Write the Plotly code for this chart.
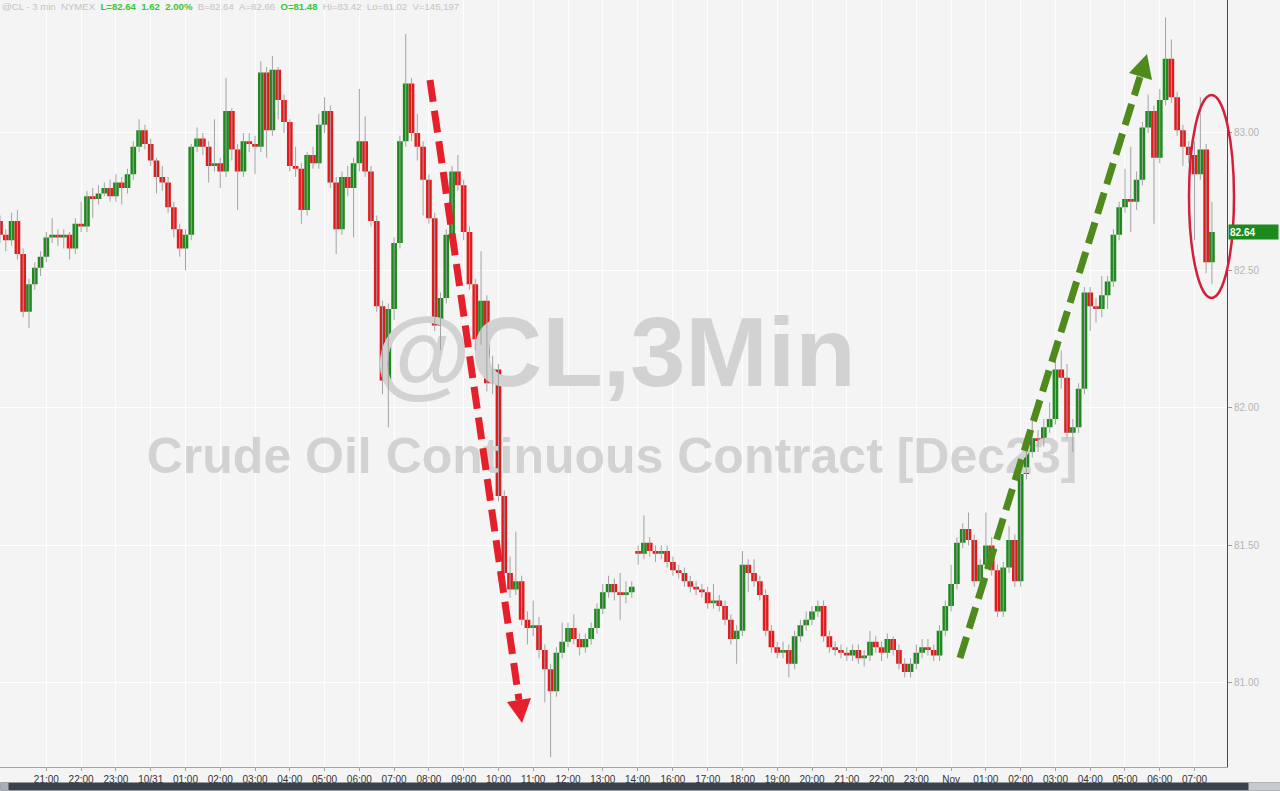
import pandas as pd
import plotly.graph_objects as go

# ---------------- data (10-minute bars) ----------------
session1_start = "2023-10-30 19:40"
session2_start = "2023-10-31 15:00"
bar_freq = "10min"
session_opens = [82.68, 81.48]

closes1 = [82.63, 82.61, 82.68, 82.56, 82.35, 82.45, 82.51, 82.55, 82.62, 82.63,
           82.62, 82.63, 82.58, 82.67, 82.66, 82.77, 82.76, 82.78, 82.80, 82.77,
           82.82, 82.80, 82.85, 82.95, 83.01, 82.96, 82.90, 82.84, 82.82, 82.73,
           82.65, 82.58, 82.63, 82.95, 82.98, 82.95, 82.88, 82.89, 82.86, 83.08,
           82.94, 82.86, 82.97, 82.96, 82.95, 83.22, 83.01, 83.23, 83.12, 83.04,
           82.88, 82.87, 82.72, 82.92, 82.89, 83.03, 83.08, 82.82, 82.65, 82.84,
           82.80, 82.89, 82.97, 82.86, 82.68, 82.37, 82.10, 82.36, 82.60, 82.97,
           83.18, 83.00, 82.95, 82.83, 82.69, 82.30, 82.40, 82.63, 82.86, 82.81,
           82.64, 82.45, 82.25, 82.39, 82.09, 82.14, 81.68, 81.40, 81.34, 81.37,
           81.23, 81.20, 81.21, 81.12, 81.05, 80.97, 81.11, 81.15, 81.20, 81.16,
           81.13, 81.16, 81.20, 81.27, 81.33, 81.36, 81.33, 81.32, 81.33, 81.35]
highs1 = [82.70, 82.65, 82.71, 82.72, 82.58, 82.47, 82.53, 82.57, 82.64, 82.69,
          82.65, 82.65, 82.64, 82.69, 82.75, 82.79, 82.80, 82.81, 82.82, 82.83,
          82.85, 82.84, 82.87, 82.97, 83.05, 83.03, 82.98, 82.91, 82.88, 82.84,
          82.75, 82.67, 82.65, 82.96, 83.02, 83.00, 82.97, 83.05, 82.91, 83.20,
          83.09, 82.96, 83.00, 83.00, 82.99, 83.26, 83.24, 83.28, 83.24, 83.14,
          83.05, 82.95, 82.89, 82.93, 82.95, 83.07, 83.13, 83.10, 82.84, 82.86,
          82.88, 82.91, 83.16, 83.06, 82.88, 82.70, 82.39, 82.38, 82.62, 82.99,
          83.36, 83.20, 83.07, 82.97, 82.85, 82.71, 82.42, 82.65, 82.88, 82.92,
          82.83, 82.66, 82.47, 82.57, 82.41, 82.19, 82.16, 81.70, 81.46, 81.55,
          81.39, 81.26, 81.30, 81.24, 81.14, 81.07, 81.13, 81.22, 81.22, 81.25,
          81.18, 81.18, 81.22, 81.29, 81.36, 81.39, 81.38, 81.40, 81.37, 81.37]
lows1 = [82.60, 82.57, 82.59, 82.54, 82.33, 82.29, 82.43, 82.48, 82.53, 82.60,
         82.59, 82.58, 82.54, 82.56, 82.64, 82.64, 82.69, 82.74, 82.77, 82.75,
         82.75, 82.74, 82.78, 82.83, 82.93, 82.94, 82.88, 82.78, 82.79, 82.71,
         82.62, 82.55, 82.50, 82.61, 82.93, 82.92, 82.82, 82.86, 82.80, 82.84,
         82.90, 82.72, 82.84, 82.93, 82.85, 82.93, 82.91, 82.99, 83.05, 83.00,
         82.86, 82.84, 82.67, 82.70, 82.87, 82.87, 83.00, 82.80, 82.56, 82.63,
         82.77, 82.62, 82.86, 82.84, 82.66, 82.35, 82.05, 81.93, 82.32, 82.58,
         82.95, 82.97, 82.90, 82.70, 82.67, 82.28, 82.21, 82.38, 82.61, 82.79,
         82.61, 82.43, 82.21, 82.23, 82.06, 82.05, 81.66, 81.37, 81.31, 81.32,
         81.21, 81.14, 81.17, 81.09, 80.93, 80.73, 80.95, 81.09, 81.13, 81.14,
         81.10, 81.11, 81.14, 81.18, 81.25, 81.31, 81.30, 81.23, 81.29, 81.31]

closes2 = [81.47, 81.51, 81.48, 81.47, 81.48, 81.44, 81.41, 81.40, 81.37, 81.35,
           81.34, 81.33, 81.29, 81.30, 81.28, 81.23, 81.16, 81.19, 81.43, 81.40,
           81.37, 81.32, 81.19, 81.13, 81.11, 81.12, 81.07, 81.17, 81.21, 81.23,
           81.26, 81.28, 81.17, 81.13, 81.12, 81.11, 81.10, 81.12, 81.09, 81.10,
           81.15, 81.13, 81.11, 81.16, 81.12, 81.07, 81.04, 81.07, 81.11, 81.13,
           81.12, 81.10, 81.19, 81.28, 81.36, 81.51, 81.56, 81.52, 81.37, 81.43,
           81.50, 81.41, 81.26, 81.42, 81.52, 81.37, 81.76, 81.84, 81.89, 81.88,
           81.93, 81.96, 82.14, 82.11, 81.91, 81.93, 82.07, 82.42, 82.37, 82.36,
           82.41, 82.46, 82.63, 82.73, 82.76, 82.75, 82.83, 83.02, 83.08, 82.91,
           83.12, 83.27, 83.13, 83.01, 82.95, 82.92, 82.85, 82.94, 82.53, 82.64]
highs2 = [81.50, 81.61, 81.53, 81.50, 81.50, 81.50, 81.46, 81.43, 81.42, 81.39,
          81.37, 81.36, 81.35, 81.36, 81.32, 81.30, 81.25, 81.21, 81.48, 81.45,
          81.45, 81.39, 81.34, 81.21, 81.15, 81.15, 81.14, 81.19, 81.23, 81.26,
          81.28, 81.30, 81.30, 81.19, 81.15, 81.14, 81.13, 81.14, 81.14, 81.12,
          81.19, 81.17, 81.15, 81.18, 81.17, 81.14, 81.09, 81.09, 81.14, 81.16,
          81.16, 81.14, 81.21, 81.30, 81.43, 81.53, 81.58, 81.62, 81.54, 81.45,
          81.62, 81.53, 81.43, 81.44, 81.57, 81.54, 81.78, 81.86, 81.97, 81.92,
          81.96, 82.02, 82.19, 82.21, 82.16, 81.96, 82.09, 82.44, 82.44, 82.40,
          82.48, 82.48, 82.65, 82.75, 82.87, 82.95, 82.86, 83.04, 83.14, 83.10,
          83.16, 83.42, 83.34, 83.15, 83.03, 82.97, 82.97, 83.13, 82.96, 82.75]
lows2 = [81.43, 81.45, 81.46, 81.44, 81.45, 81.42, 81.39, 81.38, 81.35, 81.33,
         81.32, 81.31, 81.27, 81.27, 81.26, 81.21, 81.14, 81.07, 81.17, 81.33,
         81.35, 81.30, 81.17, 81.11, 81.09, 81.09, 81.02, 81.05, 81.15, 81.19,
         81.21, 81.24, 81.15, 81.11, 81.10, 81.09, 81.08, 81.08, 81.07, 81.06,
         81.08, 81.11, 81.08, 81.09, 81.10, 81.05, 81.02, 81.02, 81.05, 81.09,
         81.10, 81.08, 81.08, 81.17, 81.26, 81.34, 81.49, 81.50, 81.35, 81.34,
         81.41, 81.39, 81.24, 81.24, 81.40, 81.35, 81.35, 81.74, 81.82, 81.84,
         81.86, 81.91, 81.94, 82.07, 81.89, 81.84, 81.91, 82.05, 82.28, 82.31,
         82.33, 82.36, 82.44, 82.61, 82.71, 82.64, 82.72, 82.81, 83.00, 82.67,
         82.89, 83.10, 83.11, 82.99, 82.88, 82.89, 82.61, 82.83, 82.49, 82.45]

prev_settle = 81.02
header_bid, header_ask, header_volume = 82.64, 82.66, "145,197"

tick_times = ["2023-10-30 21:00", "2023-10-30 22:00", "2023-10-30 23:00",
              "2023-10-31 00:00", "2023-10-31 01:00", "2023-10-31 02:00",
              "2023-10-31 03:00", "2023-10-31 04:00", "2023-10-31 05:00",
              "2023-10-31 06:00", "2023-10-31 07:00", "2023-10-31 08:00",
              "2023-10-31 09:00", "2023-10-31 10:00", "2023-10-31 11:00",
              "2023-10-31 12:00", "2023-10-31 13:00", "2023-10-31 14:00",
              "2023-10-31 16:00", "2023-10-31 17:00", "2023-10-31 18:00",
              "2023-10-31 19:00", "2023-10-31 20:00", "2023-10-31 21:00",
              "2023-10-31 22:00", "2023-10-31 23:00", "2023-11-01 00:00",
              "2023-11-01 01:00", "2023-11-01 02:00", "2023-11-01 03:00",
              "2023-11-01 04:00", "2023-11-01 05:00", "2023-11-01 06:00",
              "2023-11-01 07:00"]
tick_labels = ["21:00", "22:00", "23:00", "10/31", "01:00", "02:00", "03:00",
               "04:00", "05:00", "06:00", "07:00", "08:00", "09:00", "10:00",
               "11:00", "12:00", "13:00", "14:00", "16:00", "17:00", "18:00",
               "19:00", "20:00", "21:00", "22:00", "23:00", "Nov", "01:00",
               "02:00", "03:00", "04:00", "05:00", "06:00", "07:00"]
price_ticks = [81.0, 81.5, 82.0, 82.5, 83.0]
x_range = ["2023-10-30 19:40", "2023-11-01 07:56"]
y_range = [80.6945, 83.4836]
session_break = ["2023-10-31 14:00:30", "2023-10-31 14:59:30"]

# ---------------- assemble ----------------
times = list(pd.date_range(session1_start, periods=len(closes1), freq=bar_freq)) + \
        list(pd.date_range(session2_start, periods=len(closes2), freq=bar_freq))
opens = [session_opens[0]] + closes1[:-1] + [session_opens[1]] + closes2[:-1]
closes = closes1 + closes2
highs = highs1 + highs2
lows = lows1 + lows2

GREEN = "#1d8a1d"
RED = "#e3191c"
BG = "#f4f4f4"
W, H = 1280, 791
PLOT_W, PLOT_H = 1227, 767


def px(xp):
    return xp / PLOT_W


def py(yp):
    return 1 - yp / PLOT_H


fig = go.Figure()

# watermark (drawn beneath the candles)
fig.add_trace(go.Scatter(
    x=[pd.Timestamp("2023-10-31 13:21")], y=[82.17], mode="text",
    text=["@CL,3Min"], textposition="middle center",
    textfont=dict(size=99, color="#d2d2d2", family="Liberation Sans, Arial", weight="bold"),
    hoverinfo="skip"))
fig.add_trace(go.Scatter(
    x=[pd.Timestamp("2023-10-31 13:16")], y=[81.81], mode="text",
    text=["Crude Oil Continuous Contract [Dec23]"], textposition="middle center",
    textfont=dict(size=50, color="#d2d2d2", family="Liberation Sans, Arial", weight="bold"),
    hoverinfo="skip"))

# wicks
wx, wy = [], []
for t, lo, hi in zip(times, lows, highs):
    wx += [t, t, None]
    wy += [lo, hi, None]
fig.add_trace(go.Scatter(x=wx, y=wy, mode="lines",
                         line=dict(color="#a3a3a3", width=1), hoverinfo="skip"))

# candle bodies
fig.add_trace(go.Candlestick(
    x=times, open=opens, high=highs, low=lows, close=closes,
    increasing=dict(fillcolor=GREEN, line=dict(color=GREEN, width=0)),
    decreasing=dict(fillcolor=RED, line=dict(color=RED, width=0)),
    whiskerwidth=0, hoverinfo="skip"))

last = closes[-1]
change = last - prev_settle
pct = change / prev_settle * 100
sess_open = session_opens[1]
sess_hi = max(highs2)
sess_lo = min(lows2)

nb = "\u00a0"
gray = "#c3c3c3"
grn = "#39c639"
header = (f"<span style='color:{gray}'>@CL - 3 min{nb}{nb}NYMEX{nb}{nb}</span>"
          f"<b><span style='color:{grn}'>L={last:.2f}{nb}{nb}{change:.2f}{nb}{nb}{pct:.2f}%</span></b>"
          f"<span style='color:{gray}'>{nb}{nb}B={header_bid:.2f}{nb}{nb}A={header_ask:.2f}{nb}{nb}</span>"
          f"<b><span style='color:{grn}'>O={sess_open:.2f}</span></b>"
          f"<span style='color:{gray}'>{nb}{nb}Hi={sess_hi:.2f}{nb}{nb}Lo={sess_lo:.2f}{nb}{nb}V={header_volume}</span>")

annotations = [
    dict(xref="paper", yref="paper", x=0.0, y=1.0, xanchor="left", yanchor="top",
         text=header, showarrow=False, font=dict(size=9.6, family="Liberation Sans, Arial"),
         yshift=1),
    dict(xref="paper", yref="y", x=1.0, y=last, xanchor="left", yanchor="middle",
         text=f"<b>{last:.2f}</b>", showarrow=False, bgcolor=GREEN, width=47, height=12,
         align="left", borderpad=1, xshift=1,
         font=dict(size=10, color="white", family="Liberation Sans, Arial")),
    # bottom scroll bar strip
    dict(xref="paper", yref="paper", x=0.0, y=-(H - PLOT_H) / PLOT_H, xanchor="left", yanchor="bottom",
         text=" ", showarrow=False, bgcolor="#3a424d", width=W, height=7, borderpad=0,
         font=dict(size=4)),
    dict(xref="paper", yref="paper", x=0.0, y=-(H - PLOT_H) / PLOT_H, xanchor="left", yanchor="bottom",
         text=" ", showarrow=False, bgcolor="#aab0b6", width=7, height=7, borderpad=0,
         font=dict(size=4)),
    dict(xref="paper", yref="paper", x=px(1248), y=-(H - PLOT_H) / PLOT_H, xanchor="left", yanchor="bottom",
         text=" ", showarrow=False, bgcolor="#c6cbd0", width=32, height=7, borderpad=0,
         font=dict(size=4)),
]

RED_ARROW = "#e5202b"
GREEN_ARROW = "#4f8a1c"
shapes = [
    # red dashed arrow
    dict(type="line", xref="paper", yref="paper", x0=px(430), y0=py(80), x1=px(519), y1=py(700),
         line=dict(color=RED_ARROW, width=7, dash="22px,9px"), layer="above"),
    dict(type="path", xref="paper", yref="paper",
         path=f"M {px(522)} {py(723)} L {px(531)} {py(698)} L {px(507)} {py(702)} Z",
         fillcolor=RED_ARROW, line=dict(width=0), layer="above"),
    # green dashed arrow
    dict(type="line", xref="paper", yref="paper", x0=px(960), y0=py(658), x1=px(1140), y1=py(77),
         line=dict(color=GREEN_ARROW, width=7, dash="22px,9px"), layer="above"),
    dict(type="path", xref="paper", yref="paper",
         path=f"M {px(1147)} {py(54)} L {px(1152)} {py(80)} L {px(1129)} {py(73)} Z",
         fillcolor=GREEN_ARROW, line=dict(width=0), layer="above"),
    # red ellipse
    dict(type="circle", xref="paper", yref="paper", x0=px(1189), x1=px(1234), y0=py(95), y1=py(298),
         line=dict(color="#d41f3c", width=2.5), layer="above"),
]

fig.update_layout(
    width=W, height=H, autosize=False,
    margin=dict(l=0, r=W - PLOT_W, t=0, b=H - PLOT_H),
    paper_bgcolor=BG, plot_bgcolor=BG, showlegend=False,
    boxgap=0.02, boxgroupgap=0.0,
    font=dict(family="Liberation Sans, Arial, sans-serif"),
    annotations=annotations, shapes=shapes,
    xaxis=dict(type="date", range=x_range,
               rangebreaks=[dict(bounds=session_break)],
               tickmode="array", tickvals=tick_times, ticktext=tick_labels,
               showgrid=True, gridcolor="#ffffff", gridwidth=1,
               showline=True, linecolor="#a4a4a4", linewidth=1,
               ticks="outside", ticklen=3, tickcolor="#a4a4a4",
               tickfont=dict(size=10, color="#333333"),
               rangeslider=dict(visible=False), zeroline=False, fixedrange=True),
    yaxis=dict(side="right", range=y_range, tickmode="array", tickvals=price_ticks,
               ticktext=[f"{v:.2f}" for v in price_ticks],
               showgrid=True, gridcolor="#ffffff", gridwidth=1,
               showline=True, linecolor="#4a4a4a", linewidth=1,
               ticks="outside", ticklen=4, tickcolor="#9a9a9a",
               tickfont=dict(size=10, color="#b5b5b5"), zeroline=False, fixedrange=True),
)

fig.write_html("out.html", config={"displayModeBar": False, "staticPlot": True},
               post_script="document.body.style.margin='0';document.body.style.background='%s';" % BG)
